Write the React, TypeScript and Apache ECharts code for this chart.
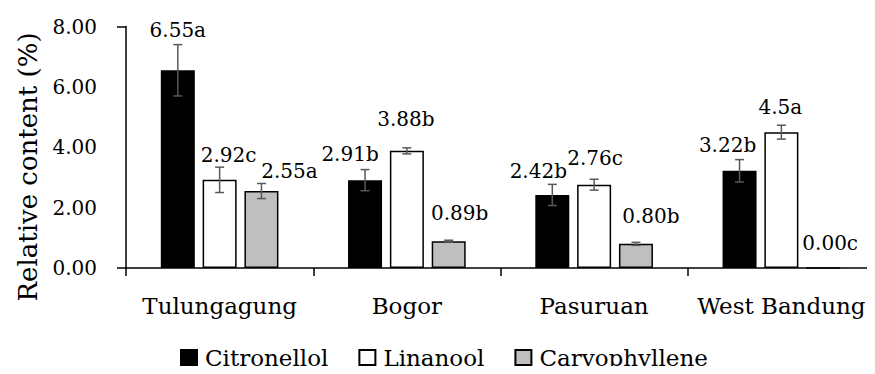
import React, { useEffect, useRef } from "react";
import * as echarts from "echarts";

// Sites and compound contents (%)
const categories = ["Tulungagung", "Bogor", "Pasuruan", "West Bandung"];
const yTicks = [0, 2, 4, 6, 8];

const citronellol = [6.55, 2.91, 2.42, 3.22];
const linanool = [2.92, 3.88, 2.76, 4.5];
const caryophyllene = [2.55, 0.89, 0.8, 0.0];

const citronellolErr = [0.85, 0.35, 0.35, 0.37];
const linanoolErr = [0.42, 0.1, 0.18, 0.23];
const caryophylleneErr = [0.25, 0.03, 0.05, 0];

const citronellolLabels = ["6.55a", "2.91b", "2.42b", "3.22b"];
const linanoolLabels = ["2.92c", "3.88b", "2.76c", "4.5a"];
const caryophylleneLabels = ["2.55a", "0.89b", "0.80b", "0.00c"];

// Hand placement of the value labels, [dx, dy] in px from the bar top
const citronellolNudge = [[0, -30], [-15, -16], [-14, -14], [-12, -16]];
const linanoolNudge = [[9, -15], [-1, -22], [1, -17], [-1, -15]];
const caryophylleneNudge = [[28, -10], [11, -18], [15, -18], [7, -14]];

const FONT = "DejaVu Serif";
const BAR_W = 34;
const BAR_GAP = 0.23;

export default function App() {
  const ref = useRef<HTMLDivElement>(null);

  useEffect(() => {
    if (!ref.current) return;
    const chart = echarts.init(ref.current, null, { renderer: "svg" });

    const step = BAR_W * (1 + BAR_GAP);

    const barSeries = (
      name: string,
      values: number[],
      labels: string[],
      nudge: number[][],
      color: string
    ) => ({
      type: "bar",
      name,
      barWidth: BAR_W,
      barGap: BAR_GAP * 100 + "%",
      itemStyle: { color, borderColor: "#000", borderWidth: 1.5 },
      data: values.map((v, i) => ({
        value: v,
        label: {
          show: true,
          position: "top",
          distance: 0,
          offset: nudge[i],
          formatter: labels[i],
          fontFamily: FONT,
          fontSize: 20,
          color: "#000",
        },
      })),
      z: 2,
    });

    const errSeries = (name: string, k: number, values: number[], errs: number[]) => ({
      type: "custom",
      name,
      z: 5,
      silent: true,
      encode: { x: 0, y: 1 },
      data: values.map((v, i) => [i, v, errs[i]]),
      renderItem: (params: any, api: any) => {
        const i = api.value(0);
        const v = api.value(1);
        const e = api.value(2);
        if (!e) return null;
        const x = api.coord([i, v])[0] + (k - 1) * step;
        const hi = api.coord([i, v + e])[1];
        const lo = api.coord([i, v - e])[1];
        const cap = 4.5;
        const style = { stroke: "#595959", lineWidth: 1.5 };
        return {
          type: "group",
          children: [
            { type: "line", shape: { x1: x, y1: hi, x2: x, y2: lo }, style },
            { type: "line", shape: { x1: x - cap, y1: hi, x2: x + cap, y2: hi }, style },
            { type: "line", shape: { x1: x - cap, y1: lo, x2: x + cap, y2: lo }, style },
          ],
        };
      },
    });

    chart.setOption({
      animation: false,
      backgroundColor: "#fff",
      grid: { left: 126, top: 26.5, width: 756, bottom: 106, containLabel: false },
      legend: {
        data: ["Citronellol", "Linanool", "Caryophyllene"],
        left: 175,
        top: 341,
        icon: "rect",
        itemWidth: 16,
        itemHeight: 15,
        itemGap: 30,
        textStyle: {
          fontFamily: FONT,
          fontSize: 23,
          color: "#000",
          padding: [0, 0, 0, 3],
        },
      },
      xAxis: {
        type: "category",
        data: categories,
        axisLine: { lineStyle: { color: "#000", width: 1.5 } },
        axisTick: { show: true, length: 8, lineStyle: { color: "#000", width: 1.5 } },
        axisLabel: {
          interval: 0,
          hideOverlap: false,
          fontFamily: FONT,
          fontSize: 23,
          color: "#000",
          margin: 26,
        },
      },
      yAxis: {
        type: "value",
        min: yTicks[0],
        max: yTicks[yTicks.length - 1],
        interval: 2,
        splitLine: { show: false },
        axisLine: { show: true, lineStyle: { color: "#000", width: 1.5 } },
        axisTick: {
          show: true,
          length: 9,
          customValues: [0, 8],
          lineStyle: { color: "#000", width: 1.5 },
        },
        axisLabel: {
          fontFamily: FONT,
          fontSize: 20,
          color: "#000",
          margin: 29,
          formatter: (v: number) => v.toFixed(2),
        },
      },
      graphic: [
        {
          type: "text",
          x: 28,
          y: 167,
          rotation: Math.PI / 2,
          style: {
            text: "Relative content (%)",
            font: `26px "${FONT}"`,
            fill: "#000",
            align: "center",
            verticalAlign: "middle",
          },
        },
      ],
      series: [
        barSeries("Citronellol", citronellol, citronellolLabels, citronellolNudge, "#000"),
        barSeries("Linanool", linanool, linanoolLabels, linanoolNudge, "#fff"),
        barSeries("Caryophyllene", caryophyllene, caryophylleneLabels, caryophylleneNudge, "#bfbfbf"),
        errSeries("err-c", 0, citronellol, citronellolErr),
        errSeries("err-l", 1, linanool, linanoolErr),
        errSeries("err-y", 2, caryophyllene, caryophylleneErr),
      ],
    });

    return () => chart.dispose();
  }, []);

  return <div ref={ref} style={{ width: 875, height: 374, margin: -8 }} />;
}
